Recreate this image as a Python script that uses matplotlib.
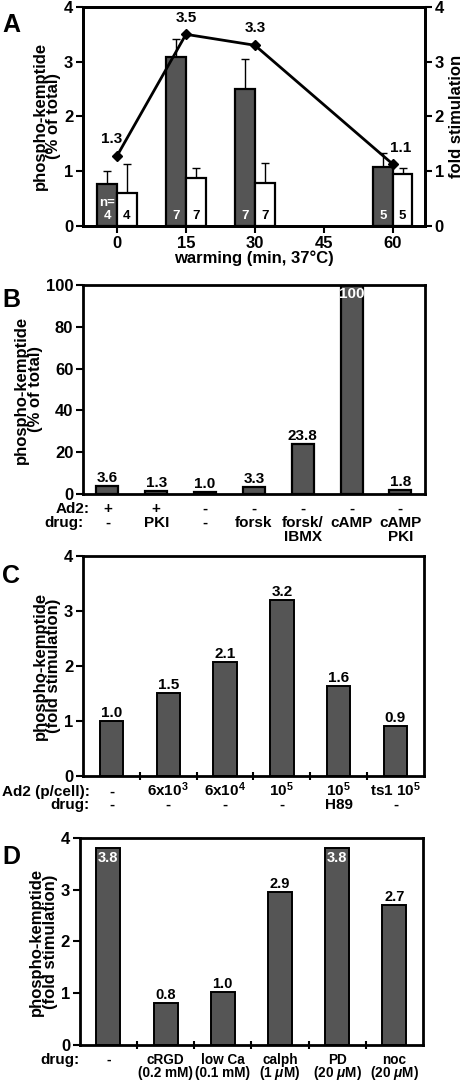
import numpy as np
import matplotlib
matplotlib.use('Agg')
import matplotlib.pyplot as plt
from matplotlib import rcParams

rcParams.update({'font.family': 'Liberation Sans', 'font.weight': 'bold',
                 'axes.labelweight': 'bold',
                 'font.size': 11.5, 'axes.linewidth': 2.0,
                 'mathtext.fontset': 'custom',
                 'mathtext.rm': 'Liberation Sans:bold',
                 'mathtext.it': 'Liberation Sans:bold:italic',
                 'mathtext.bf': 'Liberation Sans:bold',
                 'mathtext.default': 'rm'})

DARK = '#555555'

# panel A
a_times = [0, 15, 30, 60]
a_ad2 = [0.76, 3.08, 2.51, 1.07]
a_ad2_err = [0.24, 0.33, 0.54, 0.26]
a_mock = [0.61, 0.88, 0.78, 0.95]
a_mock_err = [0.52, 0.17, 0.37, 0.11]
a_n = [4, 7, 7, 5]
a_fold = [1.28, 3.5, 3.3, 1.13]
a_fold_txt = ['1.3', '3.5', '3.3', '1.1']

# panel B
b_ad2 = ['+', '+', '-', '-', '-', '-', '-']
b_drug = ['-', 'PKI', '-', 'forsk', 'forsk/\nIBMX', 'cAMP', 'cAMP\nPKI']
b_vals = [3.6, 1.3, 1.0, 3.3, 23.8, 100, 1.8]
b_txt = ['3.6', '1.3', '1.0', '3.3', '23.8', '100', '1.8']

# panel C
c_ad2 = ['-', r'6x10$^3$', r'6x10$^4$', r'10$^5$', r'10$^5$', r'ts1 10$^5$']
c_drug = ['-', '-', '-', '-', 'H89', '-']
c_vals = [1.0, 1.5, 2.08, 3.2, 1.64, 0.91]
c_txt = ['1.0', '1.5', '2.1', '3.2', '1.6', '0.9']

# panel D
d_drug = ['-', 'cRGD\n(0.2 mM)', 'low Ca\n(0.1 mM)', 'calph\n(1 $\\mathit{\\mu}$M)',
          'PD\n(20 $\\mathit{\\mu}$M)', 'noc\n(20 $\\mathit{\\mu}$M)']
d_vals = [3.8, 0.81, 1.02, 2.95, 3.8, 2.7]
d_txt = ['3.8', '0.8', '1.0', '2.9', '3.8', '2.7']


def row(ax, x, s, dy, fs=11, ha='center', trans=None, step=14):
	# each line placed on its own baseline
	if trans is None:
		trans = ax.get_xaxis_transform()
	for k, line in enumerate(s.split('\n')):
		ax.annotate(line, xy=(x, 0), xycoords=trans, xytext=(0, -dy - k * step), textcoords='offset pixels',
			ha=ha, va='baseline', fontsize=fs, fontweight='bold', annotation_clip=False)


def style(ax):
	ax.tick_params(direction='out', length=5, width=1.5, pad=2, labelsize=12)


fig = plt.figure(figsize=(4.72, 10.86), dpi=100)

# ---------------- A
ax1 = fig.add_axes([0.176, 0.792, 0.724, 0.2016])
w = 4.3
ax1.bar(a_times, a_ad2, width=-w, align='edge', color=DARK, edgecolor='k', linewidth=1.6, zorder=2)
ax1.bar(a_times, a_mock, width=w, align='edge', color='white', edgecolor='k', linewidth=1.6, zorder=2)
xa = np.array(a_times) - w / 2
xm = np.array(a_times) + w / 2
ax1.errorbar(xa, a_ad2, yerr=[np.zeros(4), a_ad2_err], fmt='none', ecolor='k', elinewidth=1, capsize=3, capthick=1, zorder=1)
ax1.errorbar(xm, a_mock, yerr=[np.zeros(4), a_mock_err], fmt='none', ecolor='k', elinewidth=1, capsize=3, capthick=1, zorder=1)
for i in range(4):
	ax1.text(xa[i], 0.12, str(a_n[i]), ha='center', va='baseline', color='white', fontsize=9.5)
	ax1.text(xm[i], 0.12, str(a_n[i]), ha='center', va='baseline', color='k', fontsize=9.5)
ax1.text(xa[0], 0.36, 'n=', ha='center', va='baseline', color='white', fontsize=9.5)
ax1.set_xlim(-7.4, 67)
ax1.set_ylim(0, 4)
ax1.set_xticks([0, 15, 30, 45, 60])
ax1.set_yticks([0, 1, 2, 3, 4])
ax1.set_xlabel('warming (min, 37\u00b0C)', fontsize=12, labelpad=0)
ax1.set_ylabel('phospho-kemptide\n(% of total)', fontsize=12, linespacing=0.9, labelpad=2)
style(ax1)
ax1b = ax1.twinx()
ax1b.plot(a_times, a_fold, color='k', linewidth=2, marker='D', markersize=5)
ax1b.set_ylim(0, 4)
ax1b.set_yticks([0, 1, 2, 3, 4])
ax1b.set_ylabel('fold stimulation', fontsize=12, labelpad=4)
style(ax1b)
offs = [(-5, 10), (0, 9), (0, 10), (8, 9)]
for i in range(4):
	ax1b.annotate(a_fold_txt[i], xy=(a_times[i], a_fold[i]), xytext=offs[i], textcoords='offset pixels',
		ha='center', va='bottom', fontsize=11)

# ---------------- B
ax2 = fig.add_axes([0.176, 0.5451, 0.724, 0.1925])
xb = np.arange(len(b_vals))
ax2.bar(xb, b_vals, width=0.45, color=DARK, edgecolor='k', linewidth=1.6)
for i in range(len(b_vals)):
	if b_vals[i] >= 100:
		ax2.annotate(b_txt[i], xy=(xb[i], b_vals[i]), xytext=(0, -2), textcoords='offset pixels',
			ha='center', va='top', color='white', fontsize=11)
	else:
		ax2.annotate(b_txt[i], xy=(xb[i], b_vals[i]), xytext=(0, 1), textcoords='offset pixels',
			ha='center', va='bottom', fontsize=11)
	row(ax2, xb[i], b_ad2[i], 19)
	row(ax2, xb[i], b_drug[i], 33)
row(ax2, 0.02, 'Ad2:', 19, ha='right', trans=ax2.transAxes)
row(ax2, 0.0, 'drug:', 33, ha='right', trans=ax2.transAxes)
ax2.set_xlim(-0.5, 6.5)
ax2.set_ylim(0, 100)
ax2.set_xticks([])
ax2.set_yticks([0, 20, 40, 60, 80, 100])
ax2.set_ylabel('phospho-kemptide\n(% of total)', fontsize=12, linespacing=0.9, labelpad=2)
style(ax2)

# ---------------- C
ax3 = fig.add_axes([0.176, 0.2855, 0.722, 0.2026])
xc = np.arange(len(c_vals))
ax3.bar(xc, c_vals, width=0.41, color=DARK, edgecolor='k', linewidth=1.4)
for i in range(len(c_vals)):
	ax3.annotate(c_txt[i], xy=(xc[i], c_vals[i]), xytext=(0, 1), textcoords='offset pixels',
		ha='center', va='bottom', fontsize=11)
	row(ax3, xc[i], c_ad2[i], 20)
	row(ax3, xc[i], c_drug[i], 33)
row(ax3, 0.02, 'Ad2 (p/cell):', 20, ha='right', trans=ax3.transAxes)
row(ax3, 0.02, 'drug:', 33, ha='right', trans=ax3.transAxes)
ax3.set_xlim(-0.5, 5.5)
ax3.set_ylim(0, 4)
ax3.set_xticks(xc[:-1] + 0.5)
ax3.set_xticklabels([])
ax3.set_yticks([0, 1, 2, 3, 4])
ax3.set_ylabel('phospho-kemptide\n(fold stimulation)', fontsize=12, linespacing=0.9, labelpad=2)
style(ax3)
ax3.tick_params(axis='x', direction='inout', length=6)

# ---------------- D
ax4 = fig.add_axes([0.169, 0.0378, 0.727, 0.1906])
xd = np.arange(len(d_vals))
ax4.bar(xd, d_vals, width=0.42, color=DARK, edgecolor='k', linewidth=1.4)
for i in range(len(d_vals)):
	if d_vals[i] >= 3.5:
		ax4.annotate(d_txt[i], xy=(xd[i], d_vals[i]), xytext=(0, -3), textcoords='offset pixels',
			ha='center', va='top', color='white', fontsize=10.5)
	else:
		ax4.annotate(d_txt[i], xy=(xd[i], d_vals[i]), xytext=(0, 1), textcoords='offset pixels',
			ha='center', va='bottom', fontsize=10.5)
	row(ax4, xd[i], d_drug[i], 19, fs=9.8, step=13)
row(ax4, 0.0, 'drug:', 19, fs=11, ha='right', trans=ax4.transAxes)
ax4.set_xlim(-0.5, 5.5)
ax4.set_ylim(0, 4)
ax4.set_xticks(xd[:-1] + 0.5)
ax4.set_xticklabels([])
ax4.set_yticks([0, 1, 2, 3, 4])
ax4.set_ylabel('phospho-kemptide\n(fold stimulation)', fontsize=12, linespacing=0.9, labelpad=2)
style(ax4)
ax4.tick_params(axis='x', direction='inout', length=6)

for lab, y in (('A', 0.988), ('B', 0.735), ('C', 0.481), ('D', 0.222)):
	fig.text(0.005, y, lab, fontsize=18, fontweight='bold', va='top', ha='left')

fig.savefig('out.png', dpi=100)
